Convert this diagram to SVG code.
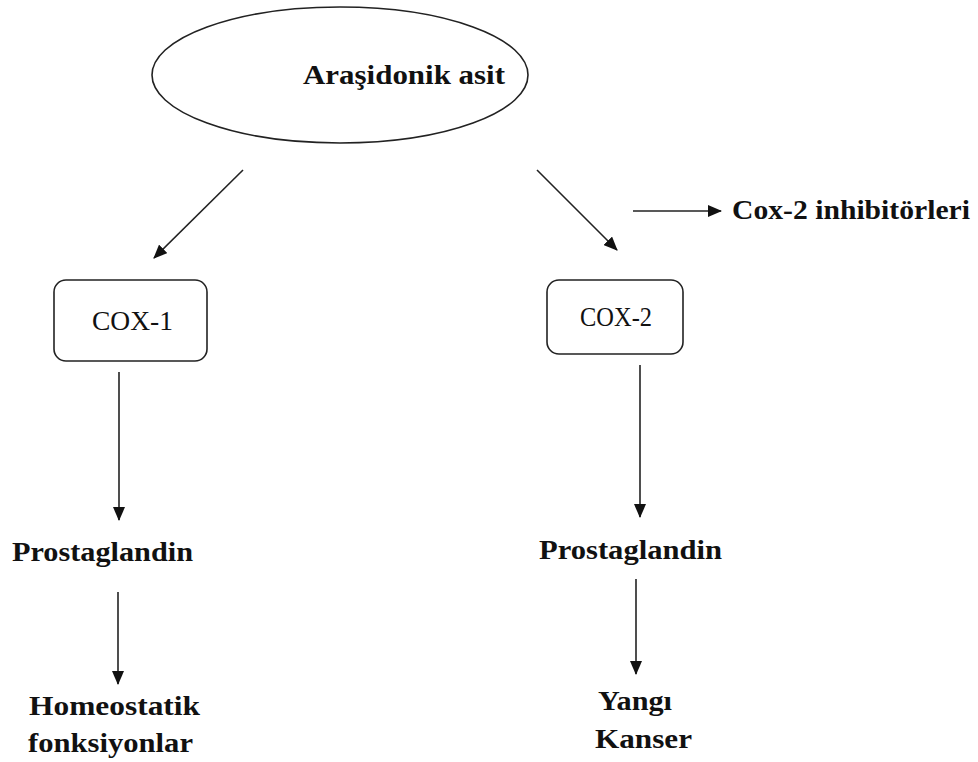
<svg xmlns="http://www.w3.org/2000/svg" width="978" height="762" viewBox="0 0 978 762">
<style>
.t{font-family:"Liberation Serif","Times New Roman",serif;font-size:27px;fill:#111}
.b{font-weight:bold}
.shape{fill:#fff;stroke:#222;stroke-width:1.6}
.c{stroke:#222;stroke-width:1.6;fill:none;marker-end:url(#ah)}
</style>
<defs>
<marker id="ah" markerWidth="14" markerHeight="12" refX="13" refY="6" orient="auto" markerUnits="userSpaceOnUse">
<path d="M0,0 L14,6 L0,12 Z" fill="#111"/>
</marker>
</defs>
<rect width="978" height="762" fill="#fff"/>
<g id="connectors">
<line class="c" x1="243" y1="170" x2="154" y2="258"/>
<line class="c" x1="537" y1="170" x2="617" y2="250"/>
<line class="c" x1="633" y1="211" x2="721" y2="211"/>
<line class="c" x1="119" y1="372" x2="119" y2="520"/>
<line class="c" x1="118" y1="592" x2="118" y2="684"/>
<line class="c" x1="640" y1="365" x2="640" y2="517"/>
<line class="c" x1="636" y1="579" x2="636" y2="674"/>
</g>
<g id="arasidonik">
<ellipse class="shape" cx="340" cy="75" rx="188" ry="68"/>
<text class="t b" x="303" y="84" textLength="202" lengthAdjust="spacingAndGlyphs">Araşidonik asit</text>
</g>
<g id="cox1">
<rect class="shape" x="54" y="280" width="153" height="81" rx="12"/>
<text class="t" x="92" y="330" textLength="81" lengthAdjust="spacingAndGlyphs">COX-1</text>
</g>
<g id="cox2">
<rect class="shape" x="547" y="280" width="136" height="74" rx="12"/>
<text class="t" x="580" y="326" textLength="72" lengthAdjust="spacingAndGlyphs">COX-2</text>
</g>
<g id="inhibitor">
<text class="t b" x="732" y="219" textLength="238" lengthAdjust="spacingAndGlyphs">Cox-2 inhibitörleri</text>
</g>
<g id="prostaglandin1">
<text class="t b" x="12" y="561" textLength="181" lengthAdjust="spacingAndGlyphs">Prostaglandin</text>
</g>
<g id="homeostatik">
<text class="t b" x="29" y="715" textLength="171" lengthAdjust="spacingAndGlyphs">Homeostatik</text>
<text class="t b" x="28" y="752" textLength="165" lengthAdjust="spacingAndGlyphs">fonksiyonlar</text>
</g>
<g id="prostaglandin2">
<text class="t b" x="539" y="559" textLength="183" lengthAdjust="spacingAndGlyphs">Prostaglandin</text>
</g>
<g id="yangi">
<text class="t b" x="598" y="710" textLength="74" lengthAdjust="spacingAndGlyphs">Yangı</text>
<text class="t b" x="595" y="748" textLength="97" lengthAdjust="spacingAndGlyphs">Kanser</text>
</g>
</svg>
